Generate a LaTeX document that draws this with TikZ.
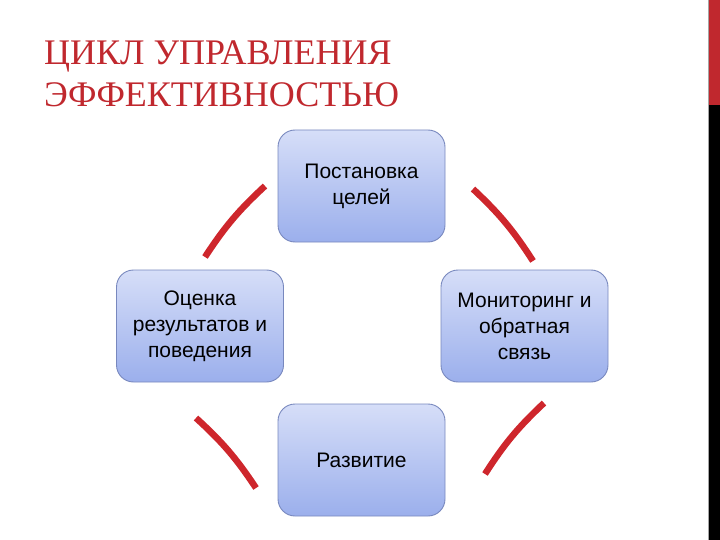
\documentclass[tikz,border=0pt]{standalone}
\usepackage{fontspec}
\setmainfont{Liberation Serif}
\setsansfont{Liberation Sans}
\usepackage{tikz}
\definecolor{ttlred}{RGB}{192,40,46}
\definecolor{ringred}{RGB}{206,38,44}
\definecolor{boxtop}{RGB}{214,222,248}
\definecolor{boxbot}{RGB}{155,175,236}
\definecolor{boxline}{RGB}{120,136,190}
\tikzstyle{stage}=[rectangle, rounded corners=17pt, draw=boxline, line width=0.9pt, top color=boxtop, bottom color=boxbot, minimum width=167pt, minimum height=112pt, align=center, font=\sffamily\fontsize{21}{26}\selectfont]
\tikzstyle{ring}=[draw=ringred, line width=6.5pt]
\tikzstyle{ttl}=[anchor=base west, inner sep=0pt, text=ttlred, font=\fontsize{36}{42}\selectfont]
\begin{document}
\begin{tikzpicture}[x=1pt, y=-1pt]
		\useasboundingbox (0,0) rectangle (720,540);
		%The side bar
		\fill[ttlred] (709,0) rectangle (720,105);
		\fill[black] (709,105) rectangle (720,540);
		\draw[black!35, line width=0.6pt] (708.3,0) -- (708.3,540);
		
		%The title
		\node[ttl] (title1) at (44,65) {ЦИКЛ УПРАВЛЕНИЯ};
		\node[ttl] (title2) at (44,107) {ЭФФЕКТИВНОСТЬЮ};
		
		%The stages
		\draw (361.5,186) node[stage] (goal) {Постановка\\целей};
		\draw (524.5,326) node[stage] (monitor) {Мониторинг и\\обратная\\связь};
		\draw (361.5,460) node[stage] (devel) {Развитие};
		\draw (200,326) node[stage] (assess) {Оценка\\результатов и\\поведения};
		
		%The ring pieces
		\coordinate (a1) at (265,186);
		\coordinate (a2) at (205,257);
		\coordinate (b1) at (473,189);
		\coordinate (b2) at (533,261);
		\coordinate (c1) at (544,403);
		\coordinate (c2) at (485,474);
		\coordinate (d1) at (196,418);
		\coordinate (d2) at (256,488);
		\draw[ring] (a1) to[bend right=7] (a2);
		\draw[ring] (b1) to[bend left=7] (b2);
		\draw[ring] (c1) to[bend right=7] (c2);
		\draw[ring] (d1) to[bend left=7] (d2);
		\end{tikzpicture}
\end{document}
